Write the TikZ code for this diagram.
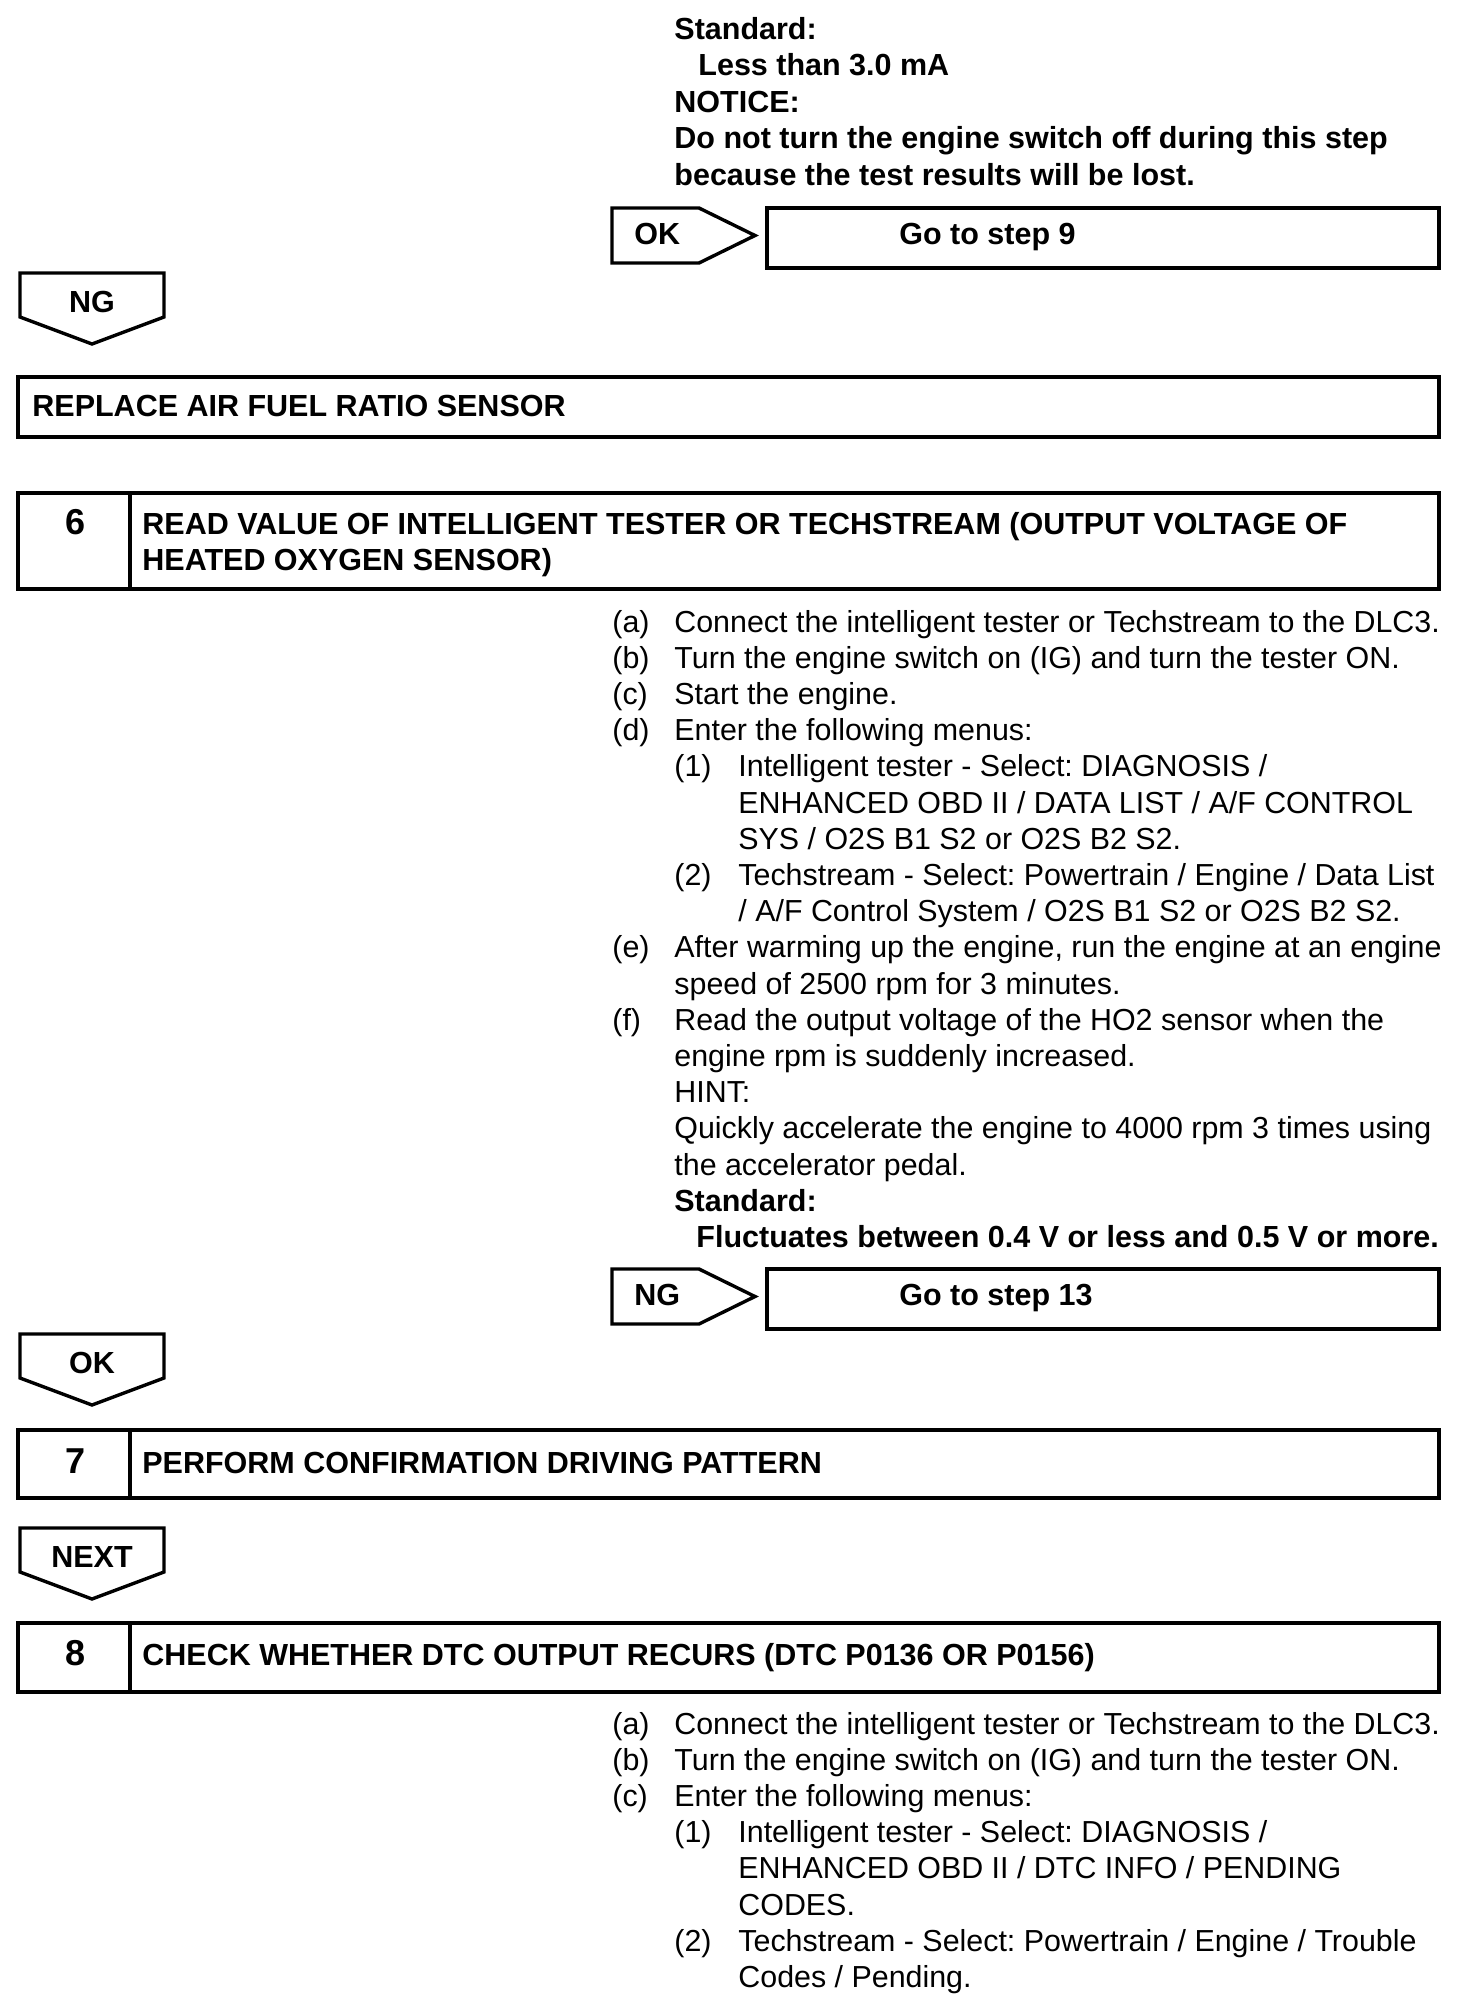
\documentclass[tikz,border=0pt]{standalone}
\usepackage{fontspec}
\setmainfont{Liberation Sans}
\usepackage{array}
\frenchspacing

\tikzset{
  frame/.style={line width=2pt},
  tagline/.style={line width=1.7pt},
  txt/.style={anchor=base west, inner sep=0pt, font=\fontsize{15.2}{18.1}\selectfont},
  btxt/.style={txt, font=\fontsize{15.25}{18.1}\selectfont\bfseries},
  tagtxt/.style={anchor=base, inner sep=0pt, font=\fontsize{15.25}{18.1}\selectfont\bfseries},
  numtxt/.style={tagtxt, font=\fontsize{18}{20}\selectfont\bfseries}
}

% label spanning the two text columns of a list
\newcommand{\spanrow}[1]{\multicolumn{2}{@{}l@{}}{#1}}

% tag pointing down: left x, top y, name, label
\newcommand{\downtag}[4]{%
  \draw[tagline] (#1,#2) -- ++(144,0) -- ++(0,44) -- ++(-72,27) -- ++(-72,-27) -- cycle;
  \node[tagtxt] (#3) at (#1+72,#2+39) {#4};}

% tag pointing right with its target box: top y, name, label, target
\newcommand{\gotag}[4]{%
  \draw[tagline] (612,#1) -- ++(87,0) -- ++(56,27.5) -- ++(-56,27.5) -- ++(-87,0) -- cycle;
  \node[btxt] (#2) at (634,#1+36) {#3};
  \draw[frame] (767,#1) rectangle (1439,#1+60);
  \node[btxt] (#2box) at (899,#1+36) {#4};}

\begin{document}
\begin{tikzpicture}[x=0.5pt, y=-0.5pt]
\fill[white] (0,0) rectangle (1472,2014);
\useasboundingbox (0,0) rectangle (1472,2014);

% end of step 5
\node[btxt, font=\fontsize{15.25}{18.3}\selectfont\bfseries] (std5) at (674,39) {\begin{tabular}[t]{@{}l@{}}
Standard:\\
\hspace{12pt}Less than 3.0 mA\\
NOTICE:\\
Do not turn the engine switch off during this step\\
because the test results will be lost.
\end{tabular}};
\gotag{208}{ok5}{OK}{Go to step 9}
\downtag{20}{273}{ng5}{NG}

\draw[frame] (18,377) rectangle (1439,437);
\node[btxt] (replace) at (32,416) {REPLACE AIR FUEL RATIO SENSOR};

% step 6
\draw[frame] (18,493) rectangle (1439,589);
\draw[frame] (130,493) -- (130,589);
\node[numtxt] (num6) at (76,534) {6};
\node[btxt] (title6) at (142,534) {\begin{tabular}[t]{@{}l@{}}
READ VALUE OF INTELLIGENT TESTER OR TECHSTREAM (OUTPUT VOLTAGE OF\\
HEATED OXYGEN SENSOR)
\end{tabular}};

\node[txt] (list6) at (612,632) {\begin{tabular}[t]{@{}p{31pt}@{}p{32pt}@{}l@{}}
(a) & \spanrow{Connect the intelligent tester or Techstream to the DLC3.}\\
(b) & \spanrow{Turn the engine switch on (IG) and turn the tester ON.}\\
(c) & \spanrow{Start the engine.}\\
(d) & \spanrow{Enter the following menus:}\\
 & (1) & Intelligent tester - Select: DIAGNOSIS /\\
 & & ENHANCED OBD II / DATA LIST / A/F CONTROL\\
 & & SYS / O2S B1 S2 or O2S B2 S2.\\
 & (2) & Techstream - Select: Powertrain / Engine / Data List\\
 & & / A/F Control System / O2S B1 S2 or O2S B2 S2.\\
(e) & \spanrow{After warming up the engine, run the engine at an engine}\\
 & \spanrow{speed of 2500 rpm for 3 minutes.}\\
(f) & \spanrow{Read the output voltage of the HO2 sensor when the}\\
 & \spanrow{engine rpm is suddenly increased.}\\
 & \spanrow{HINT:}\\
 & \spanrow{Quickly accelerate the engine to 4000 rpm 3 times using}\\
 & \spanrow{the accelerator pedal.}\\
 & \spanrow{\fontsize{15.25}{18.1}\selectfont\textbf{Standard:}}\\
 & \spanrow{\fontsize{15.25}{18.1}\selectfont\hspace{11pt}\textbf{Fluctuates between 0.4 V or less and 0.5 V or more.}}
\end{tabular}};
\gotag{1269}{ng6}{NG}{Go to step 13}
\downtag{20}{1334}{ok6}{OK}

% step 7
\draw[frame] (18,1430) rectangle (1439,1498);
\draw[frame] (130,1430) -- (130,1498);
\node[numtxt] (num7) at (76,1473) {7};
\node[btxt] (title7) at (142,1473) {PERFORM CONFIRMATION DRIVING PATTERN};
\downtag{20}{1528}{next7}{NEXT}

% step 8
\draw[frame] (18,1623) rectangle (1439,1692);
\draw[frame] (130,1623) -- (130,1692);
\node[numtxt] (num8) at (76,1665) {8};
\node[btxt] (title8) at (142,1665) {CHECK WHETHER DTC OUTPUT RECURS (DTC P0136 OR P0156)};

\node[txt] (list8) at (612,1734) {\begin{tabular}[t]{@{}p{31pt}@{}p{32pt}@{}l@{}}
(a) & \spanrow{Connect the intelligent tester or Techstream to the DLC3.}\\
(b) & \spanrow{Turn the engine switch on (IG) and turn the tester ON.}\\
(c) & \spanrow{Enter the following menus:}\\
 & (1) & Intelligent tester - Select: DIAGNOSIS /\\
 & & ENHANCED OBD II / DTC INFO / PENDING\\
 & & CODES.\\
 & (2) & Techstream - Select: Powertrain / Engine / Trouble\\
 & & Codes / Pending.
\end{tabular}};
\end{tikzpicture}
\end{document}
